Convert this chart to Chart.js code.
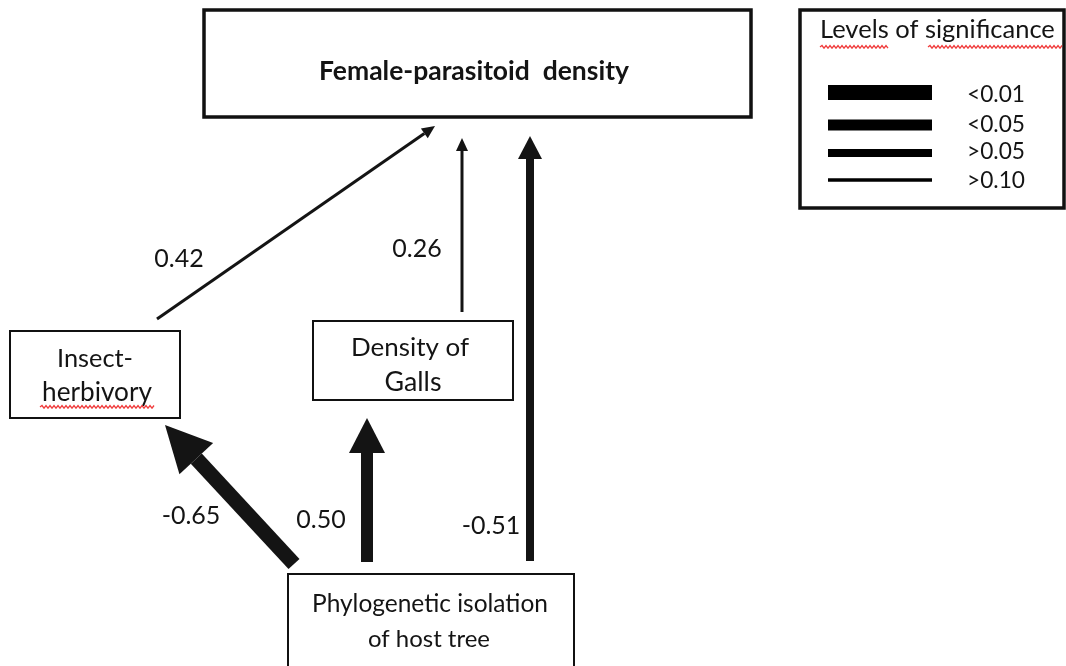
<!DOCTYPE html>
<html><head><meta charset="utf-8">
<script src="https://cdn.jsdelivr.net/npm/chart.js@4/dist/chart.umd.min.js"></script>
<style>html,body{margin:0;padding:0;background:#fff;overflow:hidden}#wrap{width:1066px;height:666px;position:relative}</style>
</head><body><div id="wrap"><canvas id="c"></canvas></div>
<script>
// ---- data ----
const nodeNames = ["Female-parasitoid  density", "Insect-\nherbivory", "Density of\nGalls", "Phylogenetic isolation\nof host tree"];
const pathFrom = [1, 2, 3, 3, 3];
const pathTo = [0, 0, 1, 2, 0];
const pathCoefficients = [0.42, 0.26, -0.65, 0.50, -0.51];
const pathSignificance = [3, 3, 0, 1, 2]; // index into significanceLevels
const significanceLevels = ["<0.01", "<0.05", ">0.05", ">0.10"];
const legendTitle = "Levels of significance";

// ---- layout (positions / sizes / styles) ----
const FONT = "Lato, 'Open Sans', sans-serif";
const INK = "#141414";
const layout = {
  nodes: [
    {box: [204, 10, 751, 117], border: 3.5, bold: true, lines: [{cx: 474, base: 80, w: 310}]},
    {box: [10, 331, 180, 418], border: 2, lines: [{cx: 95, base: 367, w: 76}, {cx: 97, base: 401, w: 110, wavy: [40, 154, 407]}]},
    {box: [313, 321, 513, 400], border: 2, lines: [{cx: 410, base: 356, w: 118}, {cx: 413, base: 391, w: 57}]},
    {box: [288, 574, 574, 680], border: 2, lines: [{cx: 430, base: 612, w: 236}, {cx: 429, base: 647, w: 122}]}
  ],
  paths: [
    {tail: [157, 319], tip: [435, 126], label: [179, 267]},
    {tail: [462, 312], tip: [462, 138], label: [417, 257]},
    {tail: [294, 564], tip: [165, 425], label: [191, 524]},
    {tail: [367, 562], tip: [367, 418], label: [321, 528]},
    {tail: [530, 561], tip: [530, 136], label: [491, 534]}
  ],
  widths: [15, 12, 8, 3],
  heads: [{len: 46, half: 23}, {len: 35, half: 18}, {len: 23, half: 12}, {len: 13, half: 6}],
  labelFont: 25,
  legend: {
    box: [800, 10, 1064, 208], border: 3.5,
    title: {x: 820, base: 38, w: 235, wavy: [[820, 888, 47], [928, 1062, 47]]},
    lineX: [828, 932], lineY: [92.5, 125, 153, 180], lineW: [15, 11, 8, 3.5],
    labelX: 967, labelBase: [102, 132, 159, 188], labelW: 58
  }
};

// ---- datasets built from data through the scales ----
const datasets = [];
pathFrom.forEach((f, i) => {
  const p = layout.paths[i];
  const s = pathSignificance[i];
  const hd = layout.heads[s];
  const dx = p.tip[0] - p.tail[0], dy = p.tip[1] - p.tail[1];
  const L = Math.hypot(dx, dy);
  const base = [p.tip[0] - dx / L * hd.len, p.tip[1] - dy / L * hd.len];
  datasets.push({
    label: nodeNames[f] + " -> " + nodeNames[pathTo[i]] + " (" + pathCoefficients[i].toFixed(2) + ")",
    data: [{x: p.tail[0], y: p.tail[1]}, {x: base[0], y: base[1]}],
    showLine: true, borderColor: INK, backgroundColor: INK, borderWidth: layout.widths[s],
    pointRadius: 0, borderCapStyle: 'butt', clip: false
  });
});
significanceLevels.forEach((lv, i) => {
  const L = layout.legend;
  datasets.push({
    label: lv,
    data: [{x: L.lineX[0], y: L.lineY[i]}, {x: L.lineX[1], y: L.lineY[i]}],
    showLine: true, borderColor: "#000", borderWidth: L.lineW[i],
    pointRadius: 0, borderCapStyle: 'butt', clip: false
  });
});

function fitFont(ctx, text, w, bold) {
  const wt = bold ? "bold " : "";
  ctx.font = wt + "20px " + FONT;
  const m = ctx.measureText(text).width;
  const size = 20 * w / m;
  return wt + size.toFixed(2) + "px " + FONT;
}
function wavy(ctx, x0, x1, y) {
  ctx.save();
  ctx.strokeStyle = "#f03c3c"; ctx.lineWidth = 1.3;
  ctx.beginPath();
  let up = true;
  ctx.moveTo(x0, y);
  for (let x = x0 + 2; x <= x1; x += 2) { ctx.lineTo(x, up ? y - 1.5 : y + 1.2); up = !up; }
  ctx.stroke();
  ctx.restore();
}

const diagramPlugin = {
  id: 'diagram',
  beforeDatasetsDraw(chart) {
    const ctx = chart.ctx, X = chart.scales.x, Y = chart.scales.y;
    ctx.save();
    ctx.fillStyle = "#fff";
    ctx.fillRect(0, 0, chart.width, chart.height);
    ctx.strokeStyle = "#111";
    const boxes = layout.nodes.map(n => [n.box, n.border]).concat([[layout.legend.box, layout.legend.border]]);
    boxes.forEach(([b, bw]) => {
      const x0 = X.getPixelForValue(b[0]), y0 = Y.getPixelForValue(b[1]);
      const x1 = X.getPixelForValue(b[2]), y1 = Y.getPixelForValue(b[3]);
      ctx.lineWidth = bw;
      ctx.strokeRect(x0, y0, x1 - x0, y1 - y0);
    });
    ctx.restore();
  },
  afterDatasetsDraw(chart) {
    const ctx = chart.ctx, X = chart.scales.x, Y = chart.scales.y;
    ctx.save();
    ctx.fillStyle = INK;
    // arrow heads
    pathFrom.forEach((f, i) => {
      const p = layout.paths[i], hd = layout.heads[pathSignificance[i]];
      const tx = X.getPixelForValue(p.tip[0]), ty = Y.getPixelForValue(p.tip[1]);
      const sx = X.getPixelForValue(p.tail[0]), sy = Y.getPixelForValue(p.tail[1]);
      const dx = tx - sx, dy = ty - sy, L = Math.hypot(dx, dy);
      const ux = dx / L, uy = dy / L;
      const bx = tx - ux * hd.len, by = ty - uy * hd.len;
      ctx.beginPath();
      ctx.moveTo(tx, ty);
      ctx.lineTo(bx - uy * hd.half, by + ux * hd.half);
      ctx.lineTo(bx + uy * hd.half, by - ux * hd.half);
      ctx.closePath();
      ctx.fill();
      // coefficient label
      ctx.font = layout.labelFont + "px " + FONT;
      ctx.textAlign = "center"; ctx.textBaseline = "alphabetic";
      ctx.fillText(pathCoefficients[i].toFixed(2), X.getPixelForValue(p.label[0]), Y.getPixelForValue(p.label[1]));
    });
    // node texts
    ctx.textAlign = "center"; ctx.textBaseline = "alphabetic";
    nodeNames.forEach((name, i) => {
      const n = layout.nodes[i];
      name.split("\n").forEach((t, j) => {
        const ln = n.lines[j];
        ctx.font = fitFont(ctx, t, ln.w, n.bold);
        ctx.fillStyle = INK;
        ctx.fillText(t, X.getPixelForValue(ln.cx), Y.getPixelForValue(ln.base));
        if (ln.wavy) wavy(ctx, ln.wavy[0], ln.wavy[1], ln.wavy[2]);
      });
    });
    // legend texts
    const L = layout.legend;
    ctx.textAlign = "left";
    ctx.font = fitFont(ctx, legendTitle, L.title.w, false);
    ctx.fillStyle = INK;
    ctx.fillText(legendTitle, X.getPixelForValue(L.title.x), Y.getPixelForValue(L.title.base));
    L.title.wavy.forEach(w => wavy(ctx, w[0], w[1], w[2]));
    ctx.font = fitFont(ctx, significanceLevels[0], L.labelW, false);
    ctx.fillStyle = INK;
    significanceLevels.forEach((lv, i) => {
      ctx.fillText(lv, X.getPixelForValue(L.labelX), Y.getPixelForValue(L.labelBase[i]));
    });
    ctx.restore();
  }
};

new Chart(document.getElementById('c'), {
  type: 'scatter',
  data: {datasets},
  options: {
    responsive: true, maintainAspectRatio: false, animation: false,
    layout: {padding: 0},
    plugins: {legend: {display: false}, tooltip: {enabled: false}},
    scales: {
      x: {type: 'linear', min: 0, max: 1066, display: false},
      y: {type: 'linear', min: 0, max: 666, reverse: true, display: false}
    }
  },
  plugins: [diagramPlugin]
});
</script></body></html>
